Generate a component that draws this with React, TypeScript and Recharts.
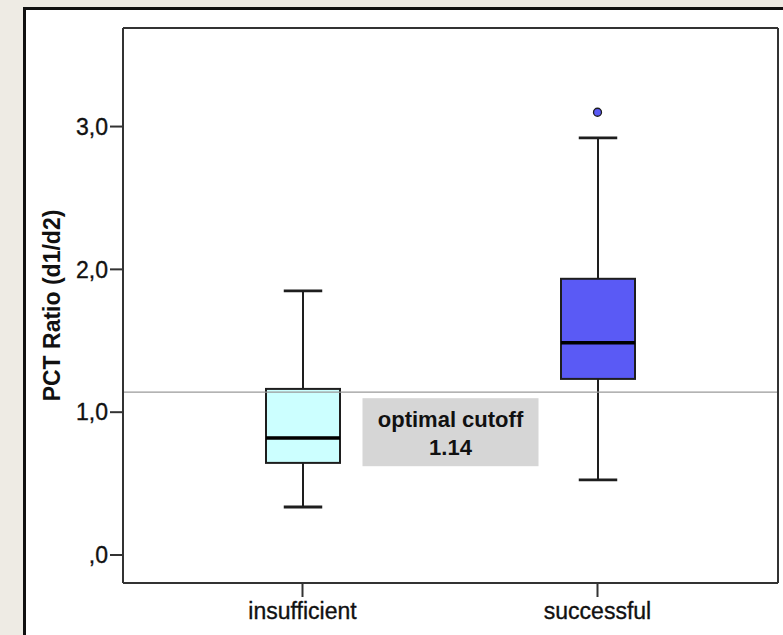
import React from 'react';
import { ComposedChart, Bar, XAxis, YAxis, Scatter, ReferenceLine, Label } from 'recharts';

const categories = ['insufficient', 'successful'];
const whiskerLow = [0.336, 0.526];
const q1 = [0.645, 1.233];
const median = [0.82, 1.486];
const q3 = [1.163, 1.934];
const whiskerHigh = [1.85, 2.92];
const outliers: (number | null)[] = [null, 3.1];
const cutoff = 1.14;
const cutoffText = ['optimal cutoff', '1.14'];
const yTicks = [0, 1, 2, 3];
const yLabel = 'PCT Ratio (d1/d2)';
const boxFills = ['#ccffff', '#5a5af5'];

const data = categories.map((name, i) => ({
  name,
  base: whiskerLow[i],
  lowWhisker: q1[i] - whiskerLow[i],
  lowBox: median[i] - q1[i],
  highBox: q3[i] - median[i],
  highWhisker: whiskerHigh[i] - q3[i],
  outlier: outliers[i],
}));

const FONT = '"Liberation Sans", Arial, Helvetica, sans-serif';
const INK = '#1e1e1e';

const LowWhisker = (p: any) => {
  const { x, y, width, height } = p;
  const cx = x + width / 2;
  const cap = width * 0.26;
  return (
    <g>
      <line x1={cx} x2={cx} y1={y} y2={y + height} stroke={INK} strokeWidth={2} />
      <line x1={cx - cap} x2={cx + cap} y1={y + height} y2={y + height} stroke={INK} strokeWidth={2.8} />
    </g>
  );
};

const HighWhisker = (p: any) => {
  const { x, y, width, height } = p;
  const cx = x + width / 2;
  const cap = width * 0.26;
  return (
    <g>
      <line x1={cx} x2={cx} y1={y} y2={y + height} stroke={INK} strokeWidth={2} />
      <line x1={cx - cap} x2={cx + cap} y1={y} y2={y} stroke={INK} strokeWidth={2.8} />
    </g>
  );
};

const LowBox = (p: any) => {
  const { x, y, width, height, index } = p;
  return <rect x={x} y={y} width={width} height={height} fill={boxFills[index]} stroke={INK} strokeWidth={2} />;
};

const HighBox = (p: any) => {
  const { x, y, width, height, index } = p;
  return (
    <g>
      <rect x={x} y={y} width={width} height={height} fill={boxFills[index]} stroke={INK} strokeWidth={2} />
      <line x1={x} x2={x + width} y1={y + height} y2={y + height} stroke="#000" strokeWidth={3.5} />
    </g>
  );
};

const Outlier = (p: any) => {
  if (p.cx == null || p.cy == null || !isFinite(p.cx) || !isFinite(p.cy)) return <g />;
  return <circle cx={p.cx} cy={p.cy} r={4} fill="#5a5af5" stroke={INK} strokeWidth={1.3} />;
};

const CutoffLabel = (props: any) => {
  const vb = props.viewBox || {};
  const cx = vb.x + vb.width / 2;
  const top = vb.y + 6;
  return (
    <g>
      <rect x={cx - 88} y={top} width={176} height={68} fill="#d6d6d6" />
      <text x={cx} y={top + 29} textAnchor="middle" fontFamily={FONT} fontWeight="bold" fontSize={22} fill="#111">
        {cutoffText[0]}
      </text>
      <text x={cx} y={top + 57} textAnchor="middle" fontFamily={FONT} fontWeight="bold" fontSize={22} fill="#111">
        {cutoffText[1]}
      </text>
    </g>
  );
};

const YLabel = (props: any) => {
  const vb = props.viewBox || {};
  const cx = vb.x + 52;
  const cy = vb.y + vb.height / 2;
  return (
    <text
      x={cx}
      y={cy}
      transform={`rotate(-90 ${cx} ${cy})`}
      textAnchor="middle"
      dominantBaseline="central"
      fontFamily={FONT}
      fontWeight="bold"
      fontSize={23}
      fill="#111"
    >
      {yLabel}
    </text>
  );
};

const fmt = (v: number) => (v === 0 ? ',0' : `${v},0`);

const tickStyle = { fill: '#111', fontSize: 23, fontFamily: FONT, stroke: '#111', strokeWidth: 0.35 };

export default function App() {
  return (
    <div
      style={{
        position: 'fixed',
        left: 0,
        top: 0,
        width: 783,
        height: 635,
        overflow: 'hidden',
        background: '#eeebe4',
      }}
    >
      <div
        style={{
          position: 'absolute',
          left: 23,
          top: 7,
          width: 800,
          height: 700,
          border: '3px solid #111',
          background: '#ffffff',
        }}
      />
      <div style={{ position: 'absolute', left: 0, top: 0 }}>
        <ComposedChart
          width={783}
          height={635}
          data={data}
          margin={{ top: 27, right: 4, left: 0, bottom: 0 }}
          barCategoryGap={0}
        >
          <XAxis
            dataKey="name"
            type="category"
            height={52}
            padding={{ left: 32, right: 33 }}
            axisLine={{ stroke: '#333', strokeWidth: 2 }}
            tickLine={{ stroke: '#333', strokeWidth: 2 }}
            tickSize={14}
            tickMargin={6}
            tick={tickStyle}
          />
          <XAxis
            xAxisId="top"
            orientation="top"
            dataKey="name"
            type="category"
            height={1}
            tick={false}
            tickLine={false}
            axisLine={{ stroke: '#333', strokeWidth: 2 }}
          />
          <YAxis
            type="number"
            width={123}
            domain={[-0.196, 3.69]}
            allowDataOverflow
            ticks={yTicks}
            tickFormatter={fmt}
            axisLine={{ stroke: '#333', strokeWidth: 2 }}
            tickLine={{ stroke: '#333', strokeWidth: 2 }}
            tickSize={13}
            tickMargin={2}
            tick={tickStyle}
          >
            <Label content={<YLabel />} />
          </YAxis>
          <YAxis
            yAxisId="right"
            orientation="right"
            width={1}
            domain={[0, 1]}
            tick={false}
            tickLine={false}
            axisLine={{ stroke: '#333', strokeWidth: 2 }}
          />
          <ReferenceLine y={cutoff} stroke="#9a9a9a" strokeWidth={1.2} label={<CutoffLabel />} />
          <Bar dataKey="base" stackId="box" barSize={74} fill="transparent" shape={() => <g />} isAnimationActive={false} />
          <Bar dataKey="lowWhisker" stackId="box" barSize={74} shape={<LowWhisker />} isAnimationActive={false} />
          <Bar dataKey="lowBox" stackId="box" barSize={74} shape={<LowBox />} isAnimationActive={false} />
          <Bar dataKey="highBox" stackId="box" barSize={74} shape={<HighBox />} isAnimationActive={false} />
          <Bar dataKey="highWhisker" stackId="box" barSize={74} shape={<HighWhisker />} isAnimationActive={false} />
          <Scatter dataKey="outlier" shape={<Outlier />} isAnimationActive={false} />
        </ComposedChart>
      </div>
    </div>
  );
}
